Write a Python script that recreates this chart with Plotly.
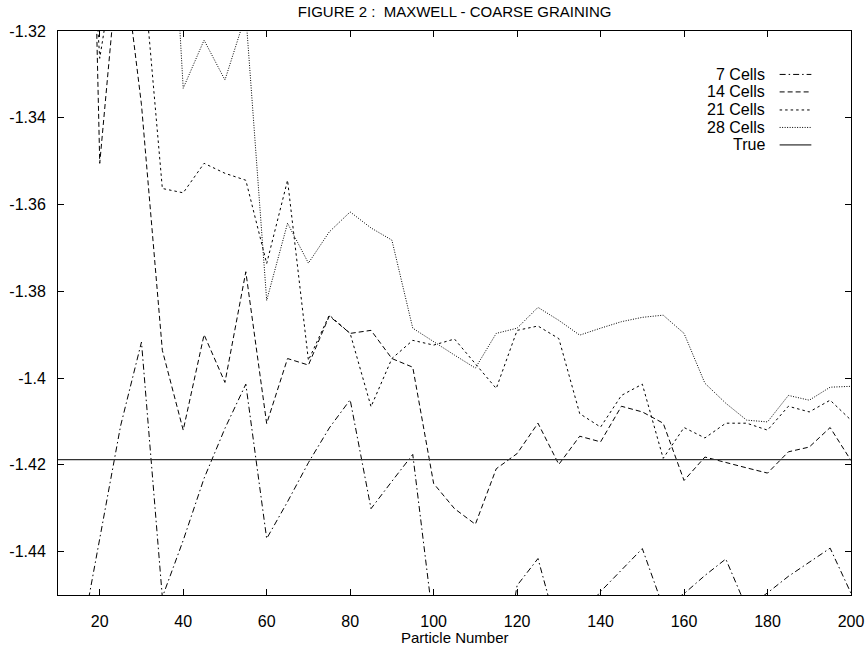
import plotly.graph_objects as go

# ---- data ----
particles = [15, 20, 25, 30, 35, 40, 45, 50, 55, 60, 65, 70, 75, 80, 85, 90, 95, 100,
             105, 110, 115, 120, 125, 130, 135, 140, 145, 150, 155, 160, 165, 170,
             175, 180, 185, 190, 195, 200]

cells_7 = [-1.463, -1.437, -1.411, -1.3917, -1.4505, -1.4374, -1.4231, -1.4116, -1.4014,
           -1.437, -1.4285, -1.4195, -1.4115, -1.405, -1.4301, -1.4238, -1.4176, -1.457,
           -1.465, -1.47, -1.476, -1.4478, -1.4416, -1.4592, -1.455, -1.4492, -1.4443,
           -1.4393, -1.4528, -1.4497, -1.4455, -1.4417, -1.453, -1.4495, -1.4457,
           -1.4425, -1.4392, -1.4496]

cells_14 = [-1.14, -1.3505, -1.2976, -1.337, -1.3936, -1.412, -1.390, -1.401, -1.3755,
            -1.4105, -1.3955, -1.397, -1.3857, -1.3897, -1.389, -1.3955, -1.3975, -1.4243,
            -1.4301, -1.4337, -1.4209, -1.4174, -1.4104, -1.4199, -1.4134, -1.4147,
            -1.4065, -1.4078, -1.4104, -1.4236, -1.4182, -1.4195, -1.4207, -1.4219,
            -1.417, -1.4159, -1.4114, -1.419]

cells_21 = [-1.25, -1.3263, -1.296, -1.301, -1.3563, -1.3573, -1.3505, -1.3528, -1.3544,
            -1.3736, -1.3544, -1.3959, -1.3855, -1.3897, -1.4066, -1.3955, -1.3913,
            -1.3924, -1.391, -1.3966, -1.4024, -1.389, -1.388, -1.3909, -1.4082, -1.4113,
            -1.404, -1.4014, -1.4185, -1.4114, -1.4138, -1.4104, -1.4104, -1.412,
            -1.4065, -1.4078, -1.4051, -1.4097]

cells_28 = [-1.27, -1.26, -1.255, -1.25, -1.249, -1.3332, -1.3221, -1.3313, -1.3162,
            -1.3821, -1.3643, -1.3735, -1.3663, -1.3617, -1.3654, -1.3682, -1.3885,
            -1.3917, -1.3947, -1.3977, -1.3897, -1.3885, -1.3837, -1.3867, -1.3901,
            -1.3885, -1.387, -1.386, -1.3855, -1.3897, -1.4012, -1.4058, -1.4097,
            -1.4101, -1.404, -1.4051, -1.4021, -1.4019]

true_x = [10, 200]
true_value = -1.4188

series_names = ["7 Cells", "14 Cells", "21 Cells", "28 Cells", "True"]
series_dash = ["6px,3px,1.5px,3px", "5px,3px", "2.5px,3px", "1px,1.5px", "solid"]

x_ticks = [20, 40, 60, 80, 100, 120, 140, 160, 180, 200]
y_ticks = [-1.44, -1.42, -1.40, -1.38, -1.36, -1.34, -1.32]
y_tick_text = ["-1.44", "-1.42", "-1.4", "-1.38", "-1.36", "-1.34", "-1.32"]

FONT = "Liberation Sans, Arial, Helvetica, sans-serif"

fig = go.Figure()
ys = [cells_7, cells_14, cells_21, cells_28]
for name, dash, y in zip(series_names[:4], series_dash[:4], ys):
    fig.add_trace(go.Scatter(x=particles, y=y, mode="lines", name=name,
                             line=dict(color="black", width=1, dash=dash),
                             showlegend=False, cliponaxis=True))
fig.add_trace(go.Scatter(x=true_x, y=[true_value] * len(true_x), mode="lines",
                         name="True", line=dict(color="#333333", width=1.3),
                         showlegend=False))

# custom legend (gnuplot style: label right-aligned, sample to the right)
# plot area: x 58..851 px, y 31..595 px
row_y = [0.923, 0.892, 0.860, 0.829, 0.798]
for i, (name, dash) in enumerate(zip(series_names, series_dash)):
    fig.add_annotation(x=0.894, y=row_y[i], xref="paper", yref="paper", text=name,
                       showarrow=False, xanchor="right", yanchor="middle",
                       font=dict(family=FONT, size=16, color="black"))
    fig.add_shape(type="line", xref="paper", yref="paper", x0=0.910, x1=0.950,
                  y0=row_y[i], y1=row_y[i],
                  line=dict(color="black", width=1, dash=dash))

# x-axis title placed close under the tick labels, as in the original
fig.add_annotation(x=0.5, y=-0.0745, xref="paper", yref="paper",
                   text="Particle Number", showarrow=False,
                   xanchor="center", yanchor="middle",
                   font=dict(family=FONT, size=15, color="black"))

fig.update_layout(
    width=866, height=645,
    margin=dict(l=58, r=15, t=31, b=50, autoexpand=False),
    paper_bgcolor="white", plot_bgcolor="white",
    title=dict(text="FIGURE 2 :  MAXWELL - COARSE GRAINING", x=0.525, xanchor="center",
               y=0.982, yanchor="middle",
               font=dict(family=FONT, size=15, color="black")),
    font=dict(family=FONT, size=16, color="black"),
    xaxis=dict(range=[10, 200], tickvals=x_ticks, ticks="inside", ticklen=6,
               tickcolor="black", showline=True, linecolor="black", linewidth=1,
               mirror="ticks", showgrid=False, zeroline=False, automargin=False,
               tickfont=dict(family=FONT, size=16), ticklabelstandoff=12),
    yaxis=dict(range=[-1.45, -1.32], tickvals=y_ticks, ticktext=y_tick_text,
               ticks="inside", ticklen=6, tickcolor="black", showline=True,
               linecolor="black", linewidth=1, mirror="ticks", showgrid=False,
               zeroline=False, automargin=False, tickfont=dict(family=FONT, size=16),
               ticklabelstandoff=8),
)

fig.write_html("out.html")
